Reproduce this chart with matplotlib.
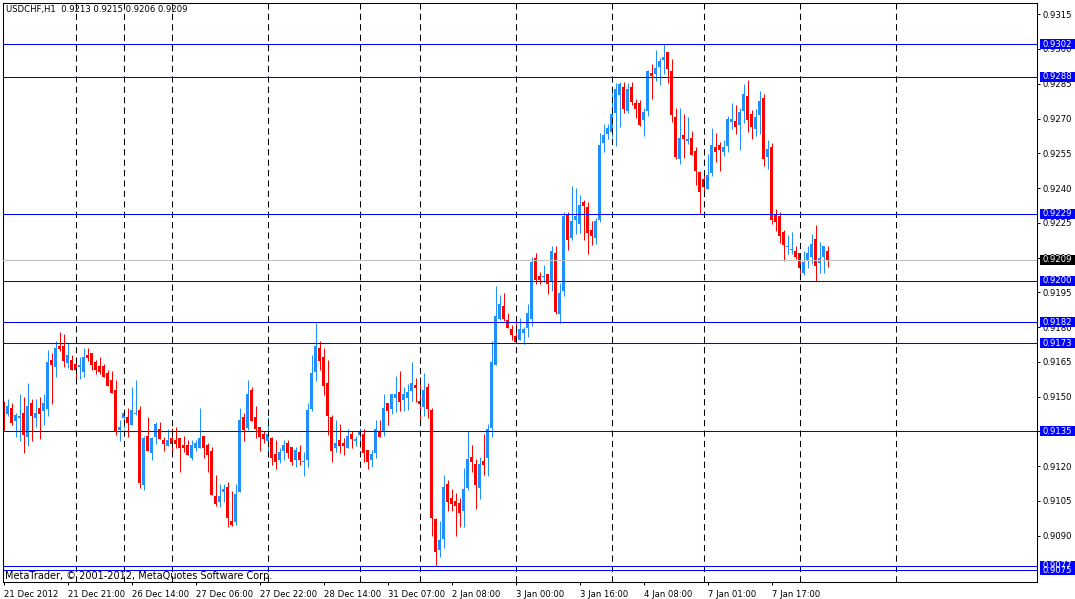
import matplotlib
matplotlib.use("Agg")
import matplotlib.pyplot as plt
import matplotlib.transforms as mtransforms
from matplotlib.patches import Rectangle
import numpy as np

# USDCHF H1 bars
opens = [
    0.91449, 0.91425, 0.91451, 0.91395, 0.91409, 0.91429, 0.91327, 0.91472, 0.91409, 0.91451,
    0.91439, 0.91446, 0.91658, 0.91628, 0.91719, 0.91719, 0.91645, 0.91658, 0.91641, 0.91629,
    0.91606, 0.91680, 0.91688, 0.91650, 0.91632, 0.91632, 0.91602, 0.91572, 0.91529, 0.91356,
    0.91408, 0.91412, 0.91377, 0.91425, 0.91442, 0.91118, 0.91330, 0.91256, 0.91326, 0.91360,
    0.91313, 0.91287, 0.91321, 0.91313, 0.91321, 0.91291, 0.91291, 0.91235, 0.91278, 0.91278,
    0.91330, 0.91291, 0.91265, 0.91071, 0.91045, 0.91088, 0.91110, 0.90963, 0.90958, 0.91088,
    0.91412, 0.91364, 0.91529, 0.91412, 0.91369, 0.91338, 0.91308, 0.91321, 0.91252, 0.91226,
    0.91265, 0.91300, 0.91282, 0.91226, 0.91261, 0.91218, 0.91226, 0.91446, 0.91606, 0.91710,
    0.91671, 0.91559, 0.91412, 0.91278, 0.91313, 0.91300, 0.91278, 0.91338, 0.91310, 0.91334,
    0.91338, 0.91269, 0.91226, 0.91256, 0.91347, 0.91347, 0.91472, 0.91446, 0.91494, 0.91520,
    0.91485, 0.91494, 0.91524, 0.91550, 0.91481, 0.91455, 0.91542, 0.91442, 0.90971, 0.90837,
    0.90885, 0.91122, 0.91062, 0.91049, 0.91040, 0.91006, 0.91105, 0.91239, 0.91209, 0.91105,
    0.91222, 0.91235, 0.91364, 0.91637, 0.91835, 0.91891, 0.91831, 0.91792, 0.91762, 0.91745,
    0.91775, 0.91796, 0.91835, 0.92099, 0.92021, 0.92017, 0.92030, 0.91999, 0.92120, 0.91857,
    0.91956, 0.92287, 0.92183, 0.92261, 0.92244, 0.92339, 0.92317, 0.92218, 0.92183, 0.92261,
    0.92594, 0.92633, 0.92641, 0.92723, 0.92801, 0.92836, 0.92732, 0.92836, 0.92767, 0.92767,
    0.92693, 0.92732, 0.92896, 0.92892, 0.92922, 0.92952, 0.92987, 0.92905, 0.92706, 0.92525,
    0.92628, 0.92605, 0.92615, 0.92559, 0.92469, 0.92438, 0.92395, 0.92464, 0.92577, 0.92585,
    0.92555, 0.92581, 0.92685, 0.92689, 0.92672, 0.92732, 0.92797, 0.92719, 0.92654, 0.92715,
    0.92788, 0.92533, 0.92577, 0.92287, 0.92278, 0.92209, 0.92146, 0.92133, 0.92127, 0.92119,
    0.92032, 0.92084, 0.92101, 0.92179, 0.92075, 0.92101, 0.92130,
]
highs = [
    0.91481, 0.91488, 0.91472, 0.91428, 0.91511, 0.91498, 0.91559, 0.91490, 0.91491, 0.91498,
    0.91511, 0.91701, 0.91688, 0.91740, 0.91779, 0.91770, 0.91732, 0.91680, 0.91658, 0.91671,
    0.91710, 0.91710, 0.91688, 0.91658, 0.91671, 0.91641, 0.91615, 0.91611, 0.91572, 0.91399,
    0.91442, 0.91451, 0.91543, 0.91572, 0.91459, 0.91330, 0.91412, 0.91326, 0.91390, 0.91390,
    0.91326, 0.91360, 0.91364, 0.91369, 0.91321, 0.91330, 0.91313, 0.91313, 0.91313, 0.91451,
    0.91330, 0.91300, 0.91282, 0.91161, 0.91122, 0.91122, 0.91131, 0.91092, 0.91122, 0.91451,
    0.91429, 0.91572, 0.91542, 0.91459, 0.91369, 0.91351, 0.91412, 0.91326, 0.91313, 0.91278,
    0.91313, 0.91313, 0.91282, 0.91282, 0.91291, 0.91261, 0.91472, 0.91680, 0.91817, 0.91740,
    0.91710, 0.91658, 0.91421, 0.91399, 0.91382, 0.91321, 0.91360, 0.91351, 0.91330, 0.91364,
    0.91360, 0.91269, 0.91269, 0.91399, 0.91399, 0.91511, 0.91472, 0.91511, 0.91589, 0.91611,
    0.91542, 0.91554, 0.91650, 0.91580, 0.91585, 0.91602, 0.91559, 0.91451, 0.90976, 0.90963,
    0.91161, 0.91140, 0.91101, 0.91084, 0.91062, 0.91192, 0.91350, 0.91291, 0.91230, 0.91239,
    0.91338, 0.91382, 0.91740, 0.91978, 0.91939, 0.91948, 0.91861, 0.91809, 0.91831, 0.91840,
    0.91801, 0.91900, 0.92103, 0.92120, 0.92038, 0.92069, 0.92030, 0.92151, 0.92151, 0.91991,
    0.92298, 0.92296, 0.92408, 0.92399, 0.92369, 0.92348, 0.92339, 0.92257, 0.92270, 0.92637,
    0.92676, 0.92676, 0.92823, 0.92853, 0.92857, 0.92857, 0.92853, 0.92857, 0.92784, 0.92780,
    0.92745, 0.92909, 0.92935, 0.92996, 0.92961, 0.93020, 0.92987, 0.92957, 0.92745, 0.92745,
    0.92719, 0.92706, 0.92646, 0.92577, 0.92473, 0.92460, 0.92546, 0.92659, 0.92637, 0.92598,
    0.92607, 0.92710, 0.92767, 0.92758, 0.92745, 0.92849, 0.92866, 0.92736, 0.92741, 0.92818,
    0.92806, 0.92607, 0.92594, 0.92309, 0.92296, 0.92218, 0.92196, 0.92209, 0.92149, 0.92119,
    0.92127, 0.92149, 0.92201, 0.92240, 0.92166, 0.92149, 0.92150,
]
lows = [
    0.91356, 0.91418, 0.91377, 0.91327, 0.91310, 0.91258, 0.91288, 0.91310, 0.91369, 0.91318,
    0.91377, 0.91418, 0.91468, 0.91586, 0.91698, 0.91628, 0.91622, 0.91615, 0.91576, 0.91576,
    0.91586, 0.91654, 0.91615, 0.91598, 0.91598, 0.91585, 0.91546, 0.91516, 0.91334, 0.91308,
    0.91363, 0.91327, 0.91377, 0.91421, 0.91105, 0.91097, 0.91265, 0.91226, 0.91295, 0.91317,
    0.91265, 0.91287, 0.91248, 0.91278, 0.91174, 0.91261, 0.91248, 0.91226, 0.91265, 0.91278,
    0.91235, 0.91174, 0.91075, 0.91027, 0.91023, 0.91045, 0.90937, 0.90941, 0.90945, 0.91088,
    0.91308, 0.91356, 0.91395, 0.91321, 0.91265, 0.91300, 0.91252, 0.91205, 0.91187, 0.91213,
    0.91226, 0.91235, 0.91205, 0.91196, 0.91205, 0.91157, 0.91196, 0.91438, 0.91567, 0.91615,
    0.91507, 0.91334, 0.91218, 0.91261, 0.91256, 0.91248, 0.91278, 0.91278, 0.91287, 0.91278,
    0.91218, 0.91187, 0.91196, 0.91235, 0.91326, 0.91330, 0.91377, 0.91425, 0.91434, 0.91438,
    0.91438, 0.91442, 0.91481, 0.91477, 0.91377, 0.91416, 0.91408, 0.90898, 0.90770, 0.90807,
    0.90846, 0.91006, 0.91006, 0.90898, 0.90937, 0.90937, 0.91097, 0.91174, 0.91014, 0.91058,
    0.91161, 0.91157, 0.91326, 0.91637, 0.91831, 0.91827, 0.91796, 0.91745, 0.91732, 0.91745,
    0.91727, 0.91758, 0.91805, 0.91986, 0.91986, 0.91995, 0.91943, 0.91956, 0.91857, 0.91818,
    0.91935, 0.92132, 0.92175, 0.92201, 0.92205, 0.92175, 0.92114, 0.92153, 0.92158, 0.92253,
    0.92555, 0.92611, 0.92620, 0.92581, 0.92663, 0.92723, 0.92723, 0.92758, 0.92702, 0.92667,
    0.92624, 0.92710, 0.92784, 0.92862, 0.92844, 0.92892, 0.92853, 0.92685, 0.92525, 0.92503,
    0.92529, 0.92590, 0.92542, 0.92412, 0.92290, 0.92382, 0.92395, 0.92451, 0.92512, 0.92473,
    0.92538, 0.92555, 0.92654, 0.92633, 0.92564, 0.92680, 0.92641, 0.92611, 0.92624, 0.92633,
    0.92494, 0.92482, 0.92244, 0.92214, 0.92162, 0.92084, 0.92114, 0.92114, 0.92093, 0.92011,
    0.92024, 0.92054, 0.92071, 0.92000, 0.92032, 0.92032, 0.92060,
]
closes = [
    0.91438, 0.91459, 0.91387, 0.91421, 0.91412, 0.91336, 0.91461, 0.91416, 0.91429, 0.91425,
    0.91472, 0.91650, 0.91637, 0.91710, 0.91706, 0.91654, 0.91680, 0.91615, 0.91615, 0.91632,
    0.91671, 0.91667, 0.91637, 0.91615, 0.91606, 0.91585, 0.91546, 0.91516, 0.91349, 0.91369,
    0.91429, 0.91387, 0.91442, 0.91429, 0.91127, 0.91321, 0.91265, 0.91321, 0.91382, 0.91317,
    0.91295, 0.91313, 0.91295, 0.91295, 0.91278, 0.91278, 0.91248, 0.91291, 0.91300, 0.91321,
    0.91278, 0.91248, 0.91075, 0.91036, 0.91071, 0.91101, 0.90976, 0.90945, 0.91079, 0.91399,
    0.91356, 0.91511, 0.91395, 0.91360, 0.91326, 0.91317, 0.91338, 0.91235, 0.91218, 0.91261,
    0.91291, 0.91256, 0.91218, 0.91269, 0.91226, 0.91222, 0.91442, 0.91602, 0.91719, 0.91654,
    0.91546, 0.91416, 0.91265, 0.91300, 0.91287, 0.91287, 0.91330, 0.91317, 0.91313, 0.91347,
    0.91256, 0.91218, 0.91252, 0.91360, 0.91326, 0.91451, 0.91438, 0.91511, 0.91511, 0.91477,
    0.91511, 0.91520, 0.91559, 0.91537, 0.91468, 0.91529, 0.91446, 0.90976, 0.90829, 0.90881,
    0.91110, 0.91045, 0.91036, 0.91027, 0.90997, 0.91101, 0.91230, 0.91218, 0.91118, 0.91209,
    0.91205, 0.91360, 0.91650, 0.91848, 0.91900, 0.91835, 0.91796, 0.91766, 0.91736, 0.91792,
    0.91792, 0.91861, 0.92082, 0.92004, 0.92004, 0.92021, 0.91986, 0.92129, 0.91866, 0.91948,
    0.92280, 0.92175, 0.92257, 0.92278, 0.92326, 0.92322, 0.92205, 0.92192, 0.92257, 0.92585,
    0.92628, 0.92659, 0.92719, 0.92827, 0.92849, 0.92741, 0.92827, 0.92771, 0.92741, 0.92672,
    0.92728, 0.92905, 0.92883, 0.92918, 0.92948, 0.92965, 0.92914, 0.92715, 0.92533, 0.92615,
    0.92611, 0.92607, 0.92542, 0.92473, 0.92382, 0.92404, 0.92456, 0.92585, 0.92555, 0.92564,
    0.92577, 0.92698, 0.92698, 0.92663, 0.92728, 0.92806, 0.92693, 0.92663, 0.92706, 0.92775,
    0.92525, 0.92568, 0.92261, 0.92253, 0.92192, 0.92153, 0.92149, 0.92136, 0.92101, 0.92054,
    0.92080, 0.92119, 0.92158, 0.92062, 0.92097, 0.92149, 0.92090,
]

time_labels = ["21 Dec 2012", "21 Dec 21:00", "26 Dec 14:00", "27 Dec 06:00", "27 Dec 22:00",
               "28 Dec 14:00", "31 Dec 07:00", "2 Jan 08:00", "3 Jan 00:00", "3 Jan 16:00",
               "4 Jan 08:00", "7 Jan 01:00", "7 Jan 17:00"]
label_bars = [0, 16, 32, 48, 64, 80, 96, 112, 128, 144, 160, 176, 192]
separator_bars = [18, 30, 42, 66, 89, 104, 128, 152, 175, 199, 223]
levels = [0.9302, 0.9288, 0.9229, 0.9200, 0.9182, 0.9173, 0.9135, 0.9077, 0.9075]
bid = 0.9209
header = "USDCHF,H1  0.9213 0.9215 0.9206 0.9209"
footer = "MetaTrader, \u00a9 2001-2012, MetaQuotes Software Corp."

BULL = "#1E90FF"
BEAR = "#FF0000"
LEVEL = "#0000FF"
FONT = "DejaVu Sans"
FS = 6.1

W, H = 1075, 599
fig = plt.figure(figsize=(W / 100, H / 100), dpi=100)
fig.patch.set_facecolor("white")
ax = fig.add_axes([3 / W, (H - 582) / H, 1034 / W, 579 / H])

o = np.array(opens)
h = np.array(highs)
l = np.array(lows)
c = np.array(closes)
x = np.arange(len(o))
cols = np.where(c >= o, BULL, BEAR)

ax.vlines(x, l, h, colors=cols, linewidth=0.72, zorder=2)
body = np.maximum(np.abs(c - o), 0.00005)
ax.bar(x, body, bottom=np.minimum(o, c), width=0.8, color=cols,
       linewidth=0, zorder=2)

for b in separator_bars:
    ax.axvline(b, color="black", linewidth=0.75, linestyle=(0, (6, 4)), zorder=3)

ax.axhline(bid, color="#C0C0C0", linewidth=0.75, zorder=3)
for lv in levels:
    ax.axhline(lv, color=LEVEL, linewidth=0.75, zorder=3)

ax.set_xlim(-0.125, 258.375)
ax.set_ylim(0.906996, 0.931985)

for s in ax.spines.values():
    s.set_color("black")
    s.set_linewidth(0.75)

ax.yaxis.tick_right()
yt = np.round(np.arange(0.9090, 0.93151, 0.0015), 4)
ax.set_yticks(yt)
ax.set_yticklabels([f"{v:.4f}" for v in yt], fontsize=FS, family=FONT)
ax.tick_params(axis="y", length=2.5, width=0.75, pad=1.2, direction="out")

ax.set_xticks(label_bars)
ax.set_xticklabels(time_labels, fontsize=FS, family=FONT, ha="left")
ax.tick_params(axis="x", length=2.5, width=0.75, pad=3, direction="out")

# price tags on the right scale
tr = mtransforms.blended_transform_factory(ax.transAxes, ax.transData)
box_h = 10 / 23170
for lv, fc in [(v, LEVEL) for v in levels] + [(bid, "black")]:
    ax.add_patch(Rectangle((1.0029, lv - box_h / 2), 0.0339, box_h, transform=tr,
                           facecolor=fc, edgecolor="none", clip_on=False, zorder=6))
    ax.text(1.0055, lv, f"{lv:.4f}", transform=tr, color="white", fontsize=FS,
            family=FONT, va="center", ha="left", clip_on=False, zorder=7)

ax.text(3 / 1034, 1 - 6.5 / 579, header, transform=ax.transAxes, fontsize=FS,
        family=FONT, va="center", ha="left", zorder=8)
ax.text(2 / 1034, 6.0 / 579, footer, transform=ax.transAxes, fontsize=7.0,
        family=FONT, va="center", ha="left", zorder=8)

fig.savefig("out.png", dpi=100, facecolor="white")
